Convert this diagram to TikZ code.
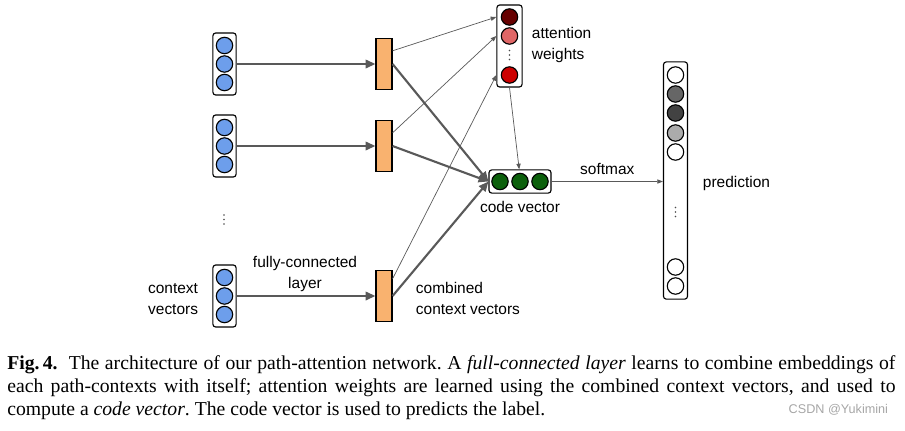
\documentclass[tikz,border=0pt]{standalone}
\usepackage{fontspec}
\setmainfont{Liberation Serif}
\setsansfont{Liberation Sans}
\usepackage{amssymb,amsmath}
\usetikzlibrary{arrows.meta,positioning}
\definecolor{ctxblue}{HTML}{6D9EEB}
\definecolor{fcorange}{HTML}{F9B26F}
\definecolor{attdark}{HTML}{660000}
\definecolor{attlight}{HTML}{E06666}
\definecolor{attred}{HTML}{CC0000}
\definecolor{codegreen}{HTML}{0B5F0B}
\definecolor{linegray}{HTML}{595959}

\begin{document}
\begin{tikzpicture}[x=0.025cm, y=-0.025cm,
	vec_box/.style={draw, thick, rounded corners=2pt, fill=white, inner sep=0pt},
	unit/.style={circle, draw, thick, minimum size=0.41cm, inner sep=0pt},
	fc_node/.style={draw, thick, fill=fcorange, minimum width=0.4cm, minimum height=1.27cm, inner sep=0pt},
	thick_arrow/.style={draw=linegray, line width=1.5pt, -{Triangle[length=7pt,width=6pt]}},
	thin_arrow/.style={draw=linegray, line width=0.5pt, -{Triangle[length=4pt,width=3pt]}},
	lbl/.style={font=\sffamily\fontsize{11}{15.5}\selectfont}]

	\useasboundingbox (0,0) rectangle (905,430);

	% context vectors
	\foreach \i/\y in {1/64, 2/146, 3/296} {
		\node[vec_box, minimum width=0.58cm, minimum height=1.55cm] (ctx\i) at (224.5,\y) {};
		\foreach \j/\d in {1/-18.5, 2/0, 3/18.5}
			\node[unit, fill=ctxblue] (ctx\i\j) at (224.5,\y+\d) {};
		\node[fc_node] (fc\i) at (384,\y) {};
	}
	% vertical dots
	\foreach \x/\y in {224/219.5, 509.5/55, 675.5/212}
		\foreach \d in {-4.5,0,4.5}
			\fill[black!70] (\x,\y+\d) circle (0.6pt);

	% attention weights
	\node[vec_box, minimum width=0.63cm, minimum height=2.05cm] (att) at (509.5,46) {};
	\node[unit, fill=attdark] (w1) at (509.5,17) {};
	\node[unit, fill=attlight] (w2) at (509.5,36) {};
	\node[unit, fill=attred] (w3) at (509.5,75) {};
	\foreach \d in {-4.5,0,4.5}
		\fill[black!70] (509.5,55+\d) circle (0.6pt);

	% code vector
	\node[vec_box, minimum width=1.55cm, minimum height=0.58cm] (code) at (520,181.5) {};
	\foreach \j/\x in {1/500, 2/520, 3/540}
		\node[unit, fill=codegreen] (code\j) at (\x,181.5) {};

	% prediction
	\node[vec_box, minimum width=0.6cm, minimum height=5.93cm] (pred) at (675.5,180.5) {};
	\foreach \j/\y/\c in {1/75/white, 2/94/black!60, 3/113/black!74, 4/133/black!33, 5/152/white, 6/267/white, 7/286/white}
		\node[unit, fill=\c] (p\j) at (675.5,\y) {};
	\foreach \d in {-4.5,0,4.5}
		\fill[black!70] (675.5,212+\d) circle (0.6pt);

	% connections
	\foreach \i in {1,2,3} {
		\path[thick_arrow] (ctx\i.east) -- (fc\i.west);
		\path[thick_arrow] (fc\i.east) -- (code.west);
	}
	\path[thin_arrow] ([yshift=0.33cm]fc1.east) -- (att.west |- w1);
	\path[thin_arrow] ([yshift=0.33cm]fc2.east) -- (att.west |- w2);
	\path[thin_arrow] ([yshift=0.43cm]fc3.east) -- (att.west |- w3);
	\path[thin_arrow] (att.south) -- ([xshift=-0.02cm]code.north);
	\path[thin_arrow] (code.east) -- node[lbl, above=1pt] {softmax} (pred.west |- code);

	% labels
	\node[lbl, anchor=west, align=left] (attlbl) at (527,45) {attention\\weights};
	\node[lbl] (codelbl) at (520,207) {code vector};
	\node[lbl, anchor=west] (predlbl) at (698,183) {prediction};
	\node[lbl, align=center] (fclbl) at (305,274) {fully-connected\\layer};
	\node[lbl, anchor=west, align=left] (comblbl) at (411,298.5) {combined\\context vectors};
	\node[lbl, anchor=east, align=right] (ctxlbl) at (203,299) {context\\vectors};

	% caption
	\node[anchor=north west, inner sep=0pt, text width=22.2cm, align=justify,
		font=\fontsize{14}{16.6}\selectfont\frenchspacing] (caption) at (7,355)
		{\textbf{Fig.\,4.}\ \ The architecture of our path-attention network. A \textit{full-connected layer} learns to combine embeddings of\linebreak
		each path-contexts with itself; attention weights are learned using the combined context vectors, and used to\linebreak
		compute a \textit{code vector}. The code vector is used to predicts the label.};
	\node[anchor=east, text=black!35, font=\sffamily\fontsize{9}{10}\selectfont] (mark) at (893,410) {CSDN @Yukimini};
\end{tikzpicture}
\end{document}
